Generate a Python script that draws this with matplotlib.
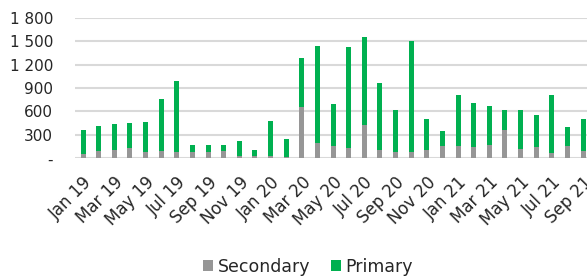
import numpy as np
import matplotlib
matplotlib.use("Agg")
import matplotlib.pyplot as plt
from matplotlib.ticker import FuncFormatter

# monthly issuance, Jan 19 .. Sep 21
months = ["Jan 19", "Feb 19", "Mar 19", "Apr 19", "May 19", "Jun 19", "Jul 19", "Aug 19",
          "Sep 19", "Oct 19", "Nov 19", "Dec 19", "Jan 20", "Feb 20", "Mar 20", "Apr 20",
          "May 20", "Jun 20", "Jul 20", "Aug 20", "Sep 20", "Oct 20", "Nov 20", "Dec 20",
          "Jan 21", "Feb 21", "Mar 21", "Apr 21", "May 21", "Jun 21", "Jul 21", "Aug 21",
          "Sep 21"]
secondary = [55, 89, 102, 128, 77, 89, 77, 77, 77, 98, 34, 34, 34, 17, 655, 191,
             162, 128, 430, 111, 81, 81, 111, 157, 157, 145, 170, 362, 119, 145, 68, 157, 94]
total = [362, 417, 434, 451, 460, 762, 987, 174, 170, 170, 217, 102, 477, 243, 1281, 1434,
         689, 1426, 1549, 962, 613, 1498, 498, 349, 809, 706, 664, 613, 621, 557, 809, 400, 498]
primary = [t - s for t, s in zip(total, secondary)]

plt.rcParams["font.family"] = ["DejaVu Sans"]

fig = plt.figure(figsize=(5.87, 2.8), dpi=100)
ax = fig.add_axes([75.2 / 587, 1 - 158.3 / 280, 1 - 75.2 / 587, (158.3 - 17.7) / 280])

x = np.arange(len(months))
ax.bar(x, secondary, width=0.32, color="#969696", label="Secondary", zorder=3)
ax.bar(x, primary, width=0.32, bottom=secondary, color="#00B050", label="Primary", zorder=3)

ax.set_xlim(-0.5, (587 - 83) / 15.625)
ax.set_ylim(0, 1800)
ax.set_yticks(np.arange(0, 1801, 300))
ax.yaxis.set_major_formatter(FuncFormatter(
    lambda v, p: "-" if v == 0 else f"{int(v):,}".replace(",", " ")))
ax.grid(axis="y", color="#D9D9D9", linewidth=1.5, zorder=0)
ax.set_axisbelow(True)

ax.set_xticks(x[::2])
ax.set_xticklabels(months[::2], rotation=45, ha="right", rotation_mode="anchor")

for s in ax.spines.values():
    s.set_visible(False)
ax.tick_params(axis="both", length=0, labelsize=11, colors="#262626")
ax.tick_params(axis="y", pad=16)
ax.tick_params(axis="x", pad=11, labelsize=12)

fig.legend(loc="center", bbox_to_anchor=(308 / 587, 13 / 280), ncol=2, frameon=False,
           fontsize=12.5, handlelength=0.6, handleheight=0.6, handletextpad=0.25,
           columnspacing=1.2, labelcolor="#262626")

fig.savefig("out.png", dpi=100)
